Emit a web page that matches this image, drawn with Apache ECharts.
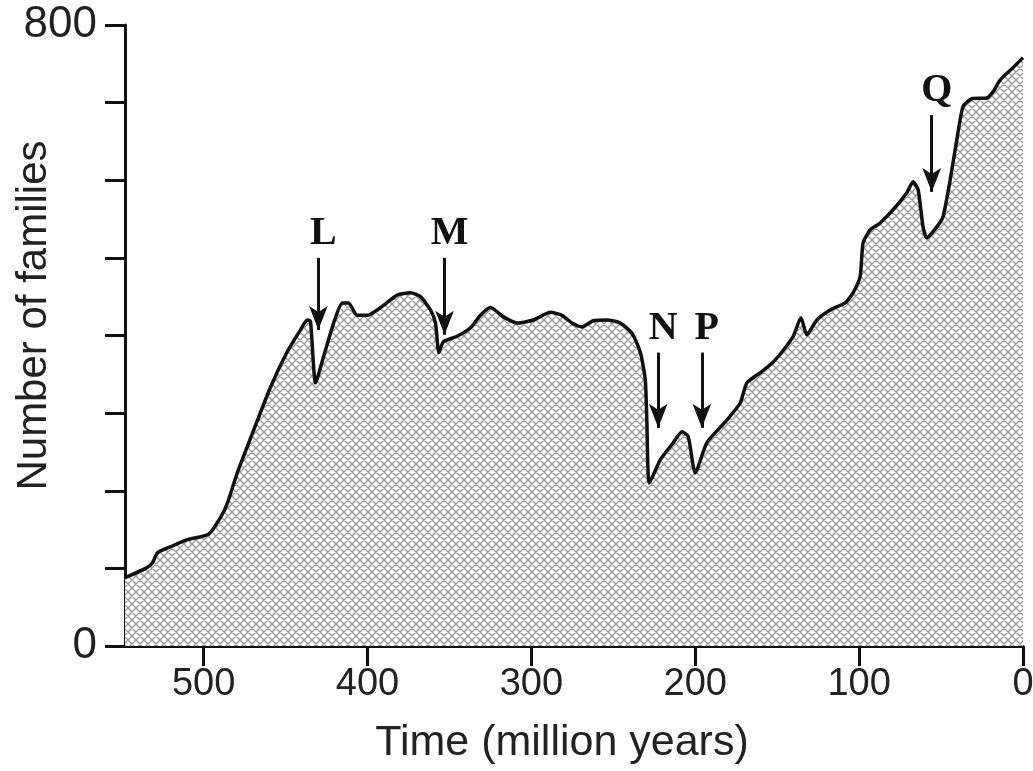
<!DOCTYPE html>
<html><head><meta charset="utf-8">
<script src="https://cdn.jsdelivr.net/npm/echarts@6/dist/echarts.min.js"></script>
<style>html,body{margin:0;padding:0;background:#fff}#c{width:1033px;height:771px}</style>
</head><body><div id="c"></div>
<script>
// Time in million years ago (x) and number of marine families (y)
const ages = [548,535.4,531.3,528.2,520.1,509.9,497,489.6,485.5,479.5,469.5,459.1,449,441,436.8,434.8,431.7,426.8,420.7,415.4,411.6,406.3,400.2,392,381.9,373.8,367.7,361.6,358.5,356.5,353.7,345.3,337.2,331.1,325,317,308.7,298.8,288.4,281.3,275.2,269.1,262.2,253.8,245.7,238.6,233.5,230.5,229.5,228,221.3,213.4,208.1,204.3,200,192.9,180.7,172.6,168.5,160.4,152.4,146.3,140.2,135.5,131.9,125.8,117.7,108.5,103.7,99.4,97.6,93.3,87.2,79.3,70.9,67.1,64,61,58.7,52.6,48.8,44.5,40.4,36.6,31.3,22.1,18.3,14,6.1,0];
const families = [88,100,107,120,128,137,144,166,184,223,278,334,379,407,420,418,339,373,416,442,442,426,426,436,452,455,450,433,416,378,392,399,410,426,436,424,416,420,430,426,416,411,419,420,416,403,378,343,287,210,240,262,276,270,223,262,291,313,339,352,366,381,399,423,401,420,433,442,455,476,519,536,545,562,584,598,588,540,526,540,553,600,652,695,705,706,714,729,745,758];
const xTicks = [0,100,200,300,400,500];
const yTicks = [0,800];
// extinction event annotations
const eventLabels = ['L','M','N','P','Q'];
const eventAges = [430,353,222.6,196,55.7];
const arrowTop = [500,500,378,378,684];
const arrowTip = [407,401,281,281,585];

function hatch(){
  const c=document.createElement('canvas'); c.width=16; c.height=16;
  const g=c.getContext('2d');
  g.fillStyle='#ffffff'; g.fillRect(0,0,16,16);
  g.strokeStyle='#999999'; g.lineWidth=1.4; g.beginPath();
  for(let k=-16;k<=32;k+=8){ g.moveTo(k,0); g.lineTo(k+16,16); g.moveTo(k,16); g.lineTo(k+16,0); }
  g.stroke();
  return c;
}

const chart = echarts.init(document.getElementById('c'), null, {renderer:'canvas'});
const sans = 'Liberation Sans, Arial, sans-serif';
chart.setOption({
  animation:false,
  backgroundColor:'#ffffff',
  grid:{left:125,right:10,top:25,bottom:125,outerBoundsMode:'none',containLabel:false},
  xAxis:{type:'value',min:0,max:548,interval:100,inverse:true,
    axisLine:{show:true,onZero:false,lineStyle:{color:'#111',width:3}},
    axisTick:{show:true,length:20,lineStyle:{color:'#111',width:3},customValues:xTicks},
    axisLabel:{customValues:xTicks,margin:20,fontSize:38,color:'#222',fontFamily:sans},
    splitLine:{show:false},
    name:'Time (million years)',nameLocation:'middle',nameGap:76,nameMoveOverlap:false,
    nameTextStyle:{fontSize:43,color:'#222',fontFamily:sans,padding:[0,24,0,0]}
  },
  yAxis:{type:'value',min:0,max:800,interval:100,
    axisLine:{show:true,onZero:false,lineStyle:{color:'#111',width:3}},
    axisTick:{show:true,length:20,lineStyle:{color:'#111',width:3}},
    axisLabel:{customValues:yTicks,margin:28,fontSize:44,color:'#222',fontFamily:sans},
    splitLine:{show:false},
    name:'Number of families',nameLocation:'middle',nameGap:70,nameMoveOverlap:false,
    nameTextStyle:{fontSize:42,color:'#222',fontFamily:sans,padding:[0,0,0,40]}
  },
  series:[{
    type:'line',
    data:ages.map((a,i)=>[a,families[i]]),
    showSymbol:false,
    smooth:0.2,
    lineStyle:{color:'#111',width:3.5},
    areaStyle:{color:{image:hatch(),repeat:'repeat'},opacity:1},
    markLine:{
      silent:true,animation:false,
      symbol:['none','arrow'],symbolSize:[14,24],
      lineStyle:{color:'#111',width:3,type:'solid'},
      label:{show:true,position:'start',formatter:p=>p.name,fontFamily:'Liberation Serif, Times New Roman, serif',fontWeight:'bold',fontSize:40,color:'#111',distance:4,padding:[0,0,0,10]},
      data:eventLabels.map((n,i)=>[{name:n,coord:[eventAges[i],arrowTop[i]]},{coord:[eventAges[i],arrowTip[i]]}])
    }
  }]
});
</script>
</body></html>
